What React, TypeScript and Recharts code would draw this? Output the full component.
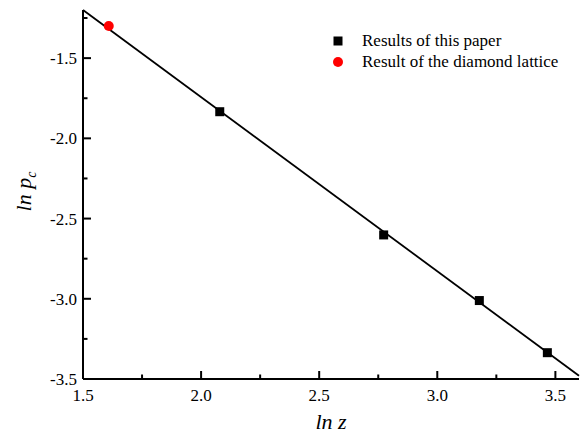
import React from 'react';
import {
  ScatterChart,
  Scatter,
  XAxis,
  YAxis,
  ReferenceLine,
  Legend,
  Label,
} from 'recharts';

// ln z and ln p_c
const paperLnZ = [2.079, 2.773, 3.178, 3.466];
const paperLnPc = [-1.834, -2.602, -3.011, -3.336];
const diamondLnZ = [1.609];
const diamondLnPc = [-1.3];
// linear fit drawn across the whole frame
const fitLnZ = [1.5, 3.6];
const fitLnPc = [-1.2, -3.48];

const xTicks = [1.5, 1.75, 2.0, 2.25, 2.5, 2.75, 3.0, 3.25, 3.5];
const yTicks = [-3.5, -3.25, -3.0, -2.75, -2.5, -2.25, -2.0, -1.75, -1.5, -1.25];

const paperData = paperLnZ.map((x, i) => ({ x, y: paperLnPc[i] }));
const diamondData = diamondLnZ.map((x, i) => ({ x, y: diamondLnPc[i] }));

const FONT = 'Liberation Serif, "DejaVu Serif", serif';
const isMajor = (v: number) => Math.abs(v * 2 - Math.round(v * 2)) < 1e-6;

const BottomTick = ({ x, y, payload }: any) => {
  const major = isMajor(payload.value);
  return (
    <g>
      <line x1={x} x2={x} y1={y} y2={y - (major ? 8 : 4.5)} stroke="#000" strokeWidth={2} />
      {major && (
        <text x={x} y={y + 22} textAnchor="middle" fontFamily={FONT} fontSize={17} fill="#000">
          {payload.value.toFixed(1)}
        </text>
      )}
    </g>
  );
};

const TopTick = ({ x, y, payload }: any) => {
  const major = isMajor(payload.value);
  return <line x1={x} x2={x} y1={y} y2={y + (major ? 8 : 4.5)} stroke="#000" strokeWidth={2} />;
};

const LeftTick = ({ x, y, payload }: any) => {
  const major = isMajor(payload.value);
  return (
    <g>
      <line x1={x} x2={x + (major ? 8 : 4.5)} y1={y} y2={y} stroke="#000" strokeWidth={2} />
      {major && (
        <text x={x - 6} y={y + 6} textAnchor="end" fontFamily={FONT} fontSize={17} fill="#000">
          {payload.value.toFixed(1)}
        </text>
      )}
    </g>
  );
};

const RightTick = ({ x, y, payload }: any) => {
  const major = isMajor(payload.value);
  return <line x1={x} x2={x - (major ? 8 : 4.5)} y1={y} y2={y} stroke="#000" strokeWidth={2} />;
};

const SquareDot = (p: any) => <rect x={p.cx - 4.5} y={p.cy - 4.5} width={9} height={9} fill="#000" />;
const RoundDot = (p: any) => <circle cx={p.cx} cy={p.cy} r={5} fill="#ff0000" />;

const LegendBox = () => (
  <div style={{ fontFamily: FONT, fontSize: 17, color: '#000' }}>
    {[
      { name: 'Results of this paper', kind: 'square' },
      { name: 'Result of the diamond lattice', kind: 'circle' },
    ].map((item) => (
      <div key={item.name} style={{ display: 'flex', alignItems: 'center', height: 21 }}>
        <svg width={16} height={16} style={{ marginRight: 16 }}>
          {item.kind === 'square' ? (
            <rect x={3.5} y={3.5} width={9} height={9} fill="#000" />
          ) : (
            <circle cx={8} cy={8} r={5} fill="#ff0000" />
          )}
        </svg>
        <span>{item.name}</span>
      </div>
    ))}
  </div>
);

export default function App() {
  return (
    <div style={{ position: 'absolute', left: 0, top: 0, background: '#fff' }}>
      <ScatterChart width={580} height={436} margin={{ top: 10, right: 1, bottom: 0, left: 0 }}>
        <XAxis
          dataKey="x"
          type="number"
          domain={[1.5, 3.6]}
          ticks={xTicks}
          interval={0}
          allowDataOverflow
          height={57}
          tickSize={0}
          tickMargin={0}
          tick={<BottomTick />}
          axisLine={{ stroke: '#000', strokeWidth: 2 }}
          tickLine={false}
        >
          <Label
            content={({ viewBox }: any) => (
              <text
                x={viewBox.x + viewBox.width / 2}
                y={viewBox.y + 50}
                textAnchor="middle"
                fontFamily={FONT}
                fontStyle="italic"
                fontSize={22}
                fill="#000"
              >
                ln z
              </text>
            )}
          />
        </XAxis>
        <XAxis
          xAxisId="top"
          orientation="top"
          dataKey="x"
          type="number"
          domain={[1.5, 3.6]}
          ticks={xTicks}
          interval={0}
          allowDataOverflow
          height={0}
          tickSize={0}
          tickMargin={0}
          tick={<TopTick />}
          axisLine={{ stroke: '#000', strokeWidth: 2 }}
          tickLine={false}
        />
        <YAxis
          dataKey="y"
          type="number"
          domain={[-3.5, -1.2]}
          ticks={yTicks}
          interval={0}
          allowDataOverflow
          width={83}
          tickSize={0}
          tickMargin={0}
          tick={<LeftTick />}
          axisLine={{ stroke: '#000', strokeWidth: 2 }}
          tickLine={false}
        >
          <Label
            content={({ viewBox }: any) => {
              const cx = 31;
              const cy = viewBox.y + viewBox.height / 2 - 3;
              return (
                <text
                  x={cx}
                  y={cy}
                  transform={`rotate(-90, ${cx}, ${cy})`}
                  textAnchor="middle"
                  fontFamily={FONT}
                  fontStyle="italic"
                  fontSize={22}
                  fill="#000"
                >
                  ln p
                  <tspan dy={5} fontSize={14}>c</tspan>
                </text>
              );
            }}
          />
        </YAxis>
        <YAxis
          yAxisId="right"
          orientation="right"
          dataKey="y"
          type="number"
          domain={[-3.5, -1.2]}
          ticks={yTicks}
          interval={0}
          allowDataOverflow
          width={0}
          tickSize={0}
          tickMargin={0}
          tick={<RightTick />}
          axisLine={{ stroke: '#000', strokeWidth: 2 }}
          tickLine={false}
        />
        <ReferenceLine
          segment={[
            { x: fitLnZ[0], y: fitLnPc[0] },
            { x: fitLnZ[1], y: fitLnPc[1] },
          ]}
          stroke="#000"
          strokeWidth={1.8}
        />
        <Scatter name="Results of this paper" data={paperData} shape={SquareDot} isAnimationActive={false} />
        <Scatter name="Result of the diamond lattice" data={diamondData} shape={RoundDot} isAnimationActive={false} />
        <Legend
          layout="vertical"
          align="center"
          verticalAlign="middle"
          content={<LegendBox />}
          wrapperStyle={{ position: 'absolute', left: 330, top: 30, width: 'auto', bottom: 'auto' }}
        />
      </ScatterChart>
    </div>
  );
}
